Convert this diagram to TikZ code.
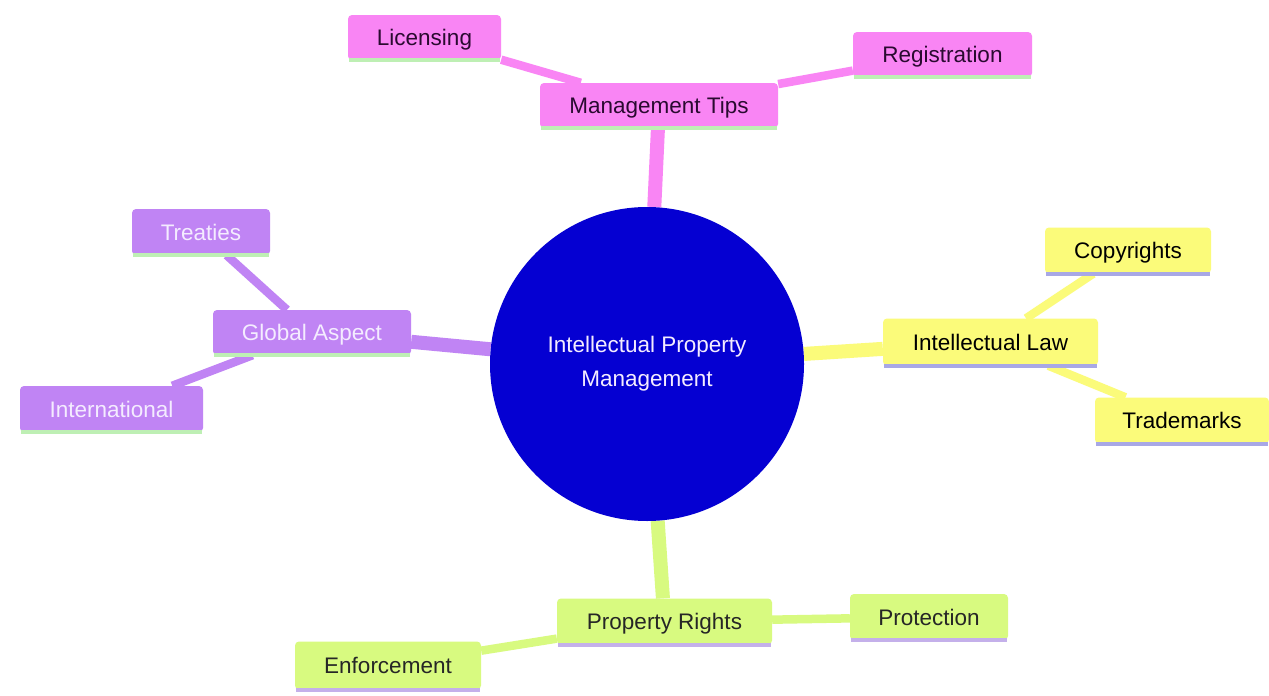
\documentclass[tikz,border=0pt]{standalone}
\usepackage{fontspec}
\setmainfont{Liberation Sans}
\pgfdeclarelayer{bg}
\pgfsetlayers{bg,main}
\definecolor{pinkF}{HTML}{F985F4}
\definecolor{yellowF}{HTML}{FBFB7A}
\definecolor{purpleF}{HTML}{C084F4}
\definecolor{greenF}{HTML}{D8FA80}
\definecolor{centerF}{HTML}{0500D2}
\definecolor{ulGreen}{HTML}{BEEFB4}
\definecolor{ulLav}{HTML}{A8A8E6}
\definecolor{ulLavG}{HTML}{C4B0EA}
\definecolor{pinkT}{HTML}{2A0A30}
\definecolor{purpleT}{HTML}{F4ECFF}
\begin{document}
\begin{tikzpicture}[x=1pt,y=-1pt,
  box/.style={rectangle, rounded corners=4pt, inner xsep=0pt, inner ysep=0pt,
    font=\fontsize{22.5}{27}\selectfont, text height=17pt, text depth=1pt},
  pinkbox/.style={box, fill=pinkF, text=pinkT},
  yellowbox/.style={box, fill=yellowF, text=black},
  purplebox/.style={box, fill=purpleF, text=purpleT},
  greenbox/.style={box, fill=greenF, text=black!85},
  mainedge/.style={line width=14pt},
  subedge/.style={line width=8.5pt},
  ul/.style={line width=4pt}]
\useasboundingbox (0,0) rectangle (1269,696);

\node[circle, fill=centerF, minimum size=314pt, inner sep=0pt, text=purpleT,
  align=center, font=\fontsize{22.5}{34}\selectfont] (c) at (647,364)
  {\raisebox{-2pt}{Intellectual Property}\\\raisebox{-2pt}{Management}};

\node[pinkbox, minimum width=238pt, minimum height=45pt] (mgmt) at (659,105.5) {Management Tips};
\node[pinkbox, minimum width=153pt, minimum height=45pt] (lic) at (424.5,37.5) {Licensing};
\node[pinkbox, minimum width=179pt, minimum height=45pt] (reg) at (942.5,54.5) {Registration};

\node[yellowbox, minimum width=215pt, minimum height=47pt] (law) at (990.5,342) {Intellectual Law};
\node[yellowbox, minimum width=166pt, minimum height=46pt] (copy) at (1128,250.5) {Copyrights};
\node[yellowbox, minimum width=174pt, minimum height=46pt] (trade) at (1182,420.5) {Trademarks};

\node[purplebox, minimum width=198pt, minimum height=45pt] (glob) at (312,332.5) {Global Aspect};
\node[purplebox, minimum width=138pt, minimum height=46pt] (treat) at (201,232) {Treaties};
\node[purplebox, minimum width=183pt, minimum height=46pt] (intl) at (111.5,409) {International};

\node[greenbox, minimum width=215pt, minimum height=46pt] (prop) at (664.5,621.5) {Property Rights};
\node[greenbox, minimum width=158pt, minimum height=46pt] (protn) at (929,617) {Protection};
\node[greenbox, minimum width=186pt, minimum height=48pt] (enf) at (388,665.5) {Enforcement};

\begin{pgfonlayer}{bg}
  \fill[white] (0,0) rectangle (1269,696);
  \draw[mainedge, pinkF] (c) -- (mgmt);
  \draw[subedge, pinkF] (mgmt) -- (lic);
  \draw[subedge, pinkF] (mgmt) -- (reg);
  \draw[mainedge, yellowF] (c) -- (law);
  \draw[subedge, yellowF] (law) -- (copy);
  \draw[subedge, yellowF] (law) -- (trade);
  \draw[mainedge, purpleF] (c) -- (glob);
  \draw[subedge, purpleF] (glob) -- (treat);
  \draw[subedge, purpleF] (glob) -- (intl);
  \draw[mainedge, greenF] (c) -- (prop);
  \draw[subedge, greenF] (prop) -- (protn);
  \draw[subedge, greenF] (prop) -- (enf);
\end{pgfonlayer}

\foreach \n in {mgmt,lic,reg,glob,treat,intl}
  \draw[ul, ulGreen] ([xshift=1pt]\n.south west) -- ([xshift=-1pt]\n.south east);
\foreach \n in {law,copy,trade}
  \draw[ul, ulLav] ([xshift=1pt]\n.south west) -- ([xshift=-1pt]\n.south east);
\foreach \n in {prop,protn,enf}
  \draw[ul, ulLavG] ([xshift=1pt]\n.south west) -- ([xshift=-1pt]\n.south east);
\end{tikzpicture}
\end{document}
